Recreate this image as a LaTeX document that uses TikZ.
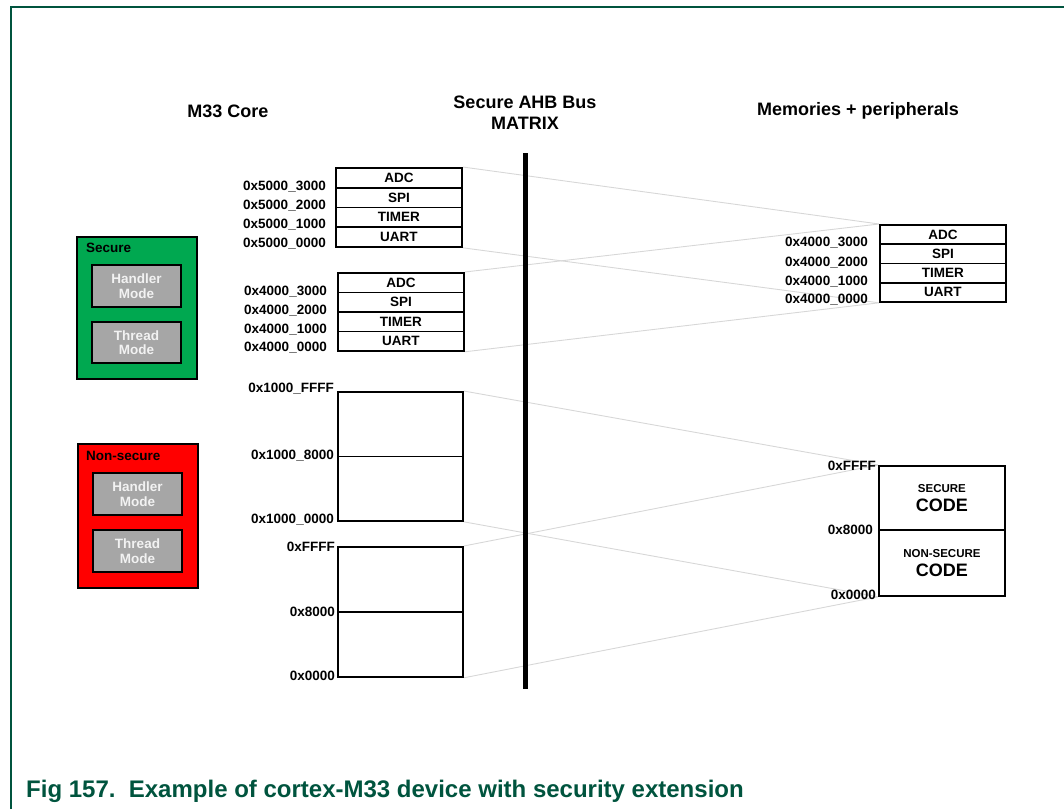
\documentclass[tikz,border=0pt]{standalone}
\usepackage{fontspec}
\setmainfont{Liberation Sans}
\definecolor{nxpgreen}{RGB}{0,84,62}
\definecolor{secgreen}{RGB}{0,168,80}
\definecolor{modegray}{RGB}{166,166,166}
\definecolor{modetext}{RGB}{242,242,242}
\definecolor{linkgray}{RGB}{215,215,215}
\pgfdeclarelayer{bg}
\pgfsetlayers{bg,main}
\begin{document}
\begin{tikzpicture}[x=1pt,y=-1pt,
  lbl/.style={font=\fontsize{13.5}{15}\selectfont\bfseries, inner sep=0},
  hdr/.style={font=\fontsize{18}{21}\selectfont\bfseries, inner sep=0, align=center},
  cell/.style={draw, line width=1.8pt, anchor=north west, inner sep=0, minimum width=126pt, font=\fontsize{13.5}{15}\selectfont\bfseries},
  membox/.style={draw, line width=1.8pt, anchor=north west, inner sep=0, minimum width=125pt},
  group/.style={draw, line width=2pt, anchor=north west, inner sep=0, minimum width=120pt},
  mode/.style={draw, line width=2pt, fill=modegray, anchor=north west, inner sep=0, minimum width=89pt, minimum height=42pt, text=modetext, align=center, font=\fontsize{13.5}{14.5}\selectfont\bfseries},
  link/.style={draw=linkgray, line width=0.9pt}]
\useasboundingbox (0,0) rectangle (1064,809);
% frame
\coordinate (fbl) at (11,809);
\coordinate (ftl) at (11,7);
\coordinate (ftr) at (1064,7);
\draw[nxpgreen, line width=1.5pt] (fbl) -- (ftl) -- (ftr);
% headers
\node[hdr] (hcore) at (228,111) {M33 Core};
\node[hdr] (hbus) at (525,112.5) {Secure AHB Bus\\MATRIX};
\node[hdr] (hmem) at (858,111) {Memories + peripherals};
% secure group
\node[group, fill=secgreen, minimum height=142pt] (sec) at (76,236) {};
\node[lbl, anchor=west] (secl) at (86,248) {Secure};
\node[mode] (sech) at (91,264) {Handler\\Mode};
\node[mode, minimum height=41pt] (sect) at (91,321) {Thread\\Mode};
% non-secure group
\node[group, fill=red, minimum height=144pt] (nsec) at (77,443) {};
\node[lbl, anchor=west] (nsecl) at (86,456) {Non-secure};
\node[mode] (nsech) at (92,472) {Handler\\Mode};
\node[mode] (nsect) at (92,529) {Thread\\Mode};
% upper peripheral stack (0x5000)
\node[cell, minimum height=19.75pt] (ua) at (335,167) {ADC};
\node[cell, minimum height=19.75pt] (ub) at (335,186.75) {SPI};
\node[cell, minimum height=19.75pt] (uc) at (335,206.5) {TIMER};
\node[cell, minimum height=19.75pt] (ud) at (335,226.25) {UART};
\node[lbl, anchor=east] (ul3) at (326,187) {0x5000\_3000};
\node[lbl, anchor=east] (ul2) at (326,206) {0x5000\_2000};
\node[lbl, anchor=east] (ul1) at (326,225) {0x5000\_1000};
\node[lbl, anchor=east] (ul0) at (326,244) {0x5000\_0000};
% middle peripheral stack (0x4000)
\node[cell, minimum height=19.5pt] (ma) at (337,272) {ADC};
\node[cell, minimum height=19.5pt] (mb) at (337,291.5) {SPI};
\node[cell, minimum height=19.5pt] (mc) at (337,311) {TIMER};
\node[cell, minimum height=19.5pt] (md) at (337,330.5) {UART};
\node[lbl, anchor=east] (ml3) at (327,292) {0x4000\_3000};
\node[lbl, anchor=east] (ml2) at (327,311) {0x4000\_2000};
\node[lbl, anchor=east] (ml1) at (327,330) {0x4000\_1000};
\node[lbl, anchor=east] (ml0) at (327,348) {0x4000\_0000};
% right peripheral stack
\node[cell, minimum height=19.25pt] (ra) at (879,224) {ADC};
\node[cell, minimum height=19.25pt] (rb) at (879,243.25) {SPI};
\node[cell, minimum height=19.25pt] (rc) at (879,262.5) {TIMER};
\node[cell, minimum height=19.25pt] (rd) at (879,281.75) {UART};
\node[lbl, anchor=east] (rl3) at (868,243) {0x4000\_3000};
\node[lbl, anchor=east] (rl2) at (868,262.5) {0x4000\_2000};
\node[lbl, anchor=east] (rl1) at (868,282) {0x4000\_1000};
\node[lbl, anchor=east] (rl0) at (868,300) {0x4000\_0000};
% left memory boxes
\node[membox, minimum height=64.5pt] (m1a) at (337,391) {};
\node[membox, minimum height=64.5pt] (m1b) at (337,455.5) {};
\node[membox, minimum height=65pt] (m2a) at (337,546) {};
\node[membox, minimum height=65pt] (m2b) at (337,611) {};
\node[lbl, anchor=east] (m1l2) at (334,389) {0x1000\_FFFF};
\node[lbl, anchor=east] (m1l1) at (334,456) {0x1000\_8000};
\node[lbl, anchor=east] (m1l0) at (334,520) {0x1000\_0000};
\node[lbl, anchor=east] (m2l2) at (335,547) {0xFFFF};
\node[lbl, anchor=east] (m2l1) at (335,612) {0x8000};
\node[lbl, anchor=east] (m2l0) at (335,676) {0x0000};
% right code box
\node[membox, minimum width=126pt, minimum height=64pt, align=center, font=\fontsize{18}{18.5}\selectfont\bfseries] (ca) at (878,465) {{\fontsize{11.5}{13}\selectfont SECURE}\\CODE};
\node[membox, minimum width=126pt, minimum height=66pt, align=center, font=\fontsize{18}{18.5}\selectfont\bfseries] (cb) at (878,529) {{\fontsize{11.5}{13}\selectfont NON-SECURE}\\CODE};
\node[lbl, anchor=east] (cl2) at (876,466) {0xFFFF};
\node[lbl, anchor=east] (cl1) at (873,530) {0x8000};
\node[lbl, anchor=east] (cl0) at (876,595) {0x0000};
% bus bar
\coordinate (bt) at (525.5,153);
\coordinate (bb) at (525.5,689);
\draw[line width=5pt] (bt) -- (bb);
% links
\begin{pgfonlayer}{bg}
\draw[link] (ua.north east) -- (ra.north west);
\draw[link] (ud.south east) -- (rd.south west);
\draw[link] (ma.north east) -- (ra.north west);
\draw[link] (md.south east) -- (rd.south west);
\draw[link] (m1a.north east) -- (ca.north west);
\draw[link] (m1b.south east) -- (cb.south west);
\draw[link] (m2a.north east) -- (ca.north west);
\draw[link] (m2b.south east) -- (cb.south west);
\end{pgfonlayer}
% caption
\node[anchor=base west, text=nxpgreen, font=\fontsize{24}{28}\selectfont\bfseries, inner sep=0] (cap) at (26,797) {Fig 157.\ \ Example of cortex-M33 device with security extension};
\end{tikzpicture}
\end{document}
